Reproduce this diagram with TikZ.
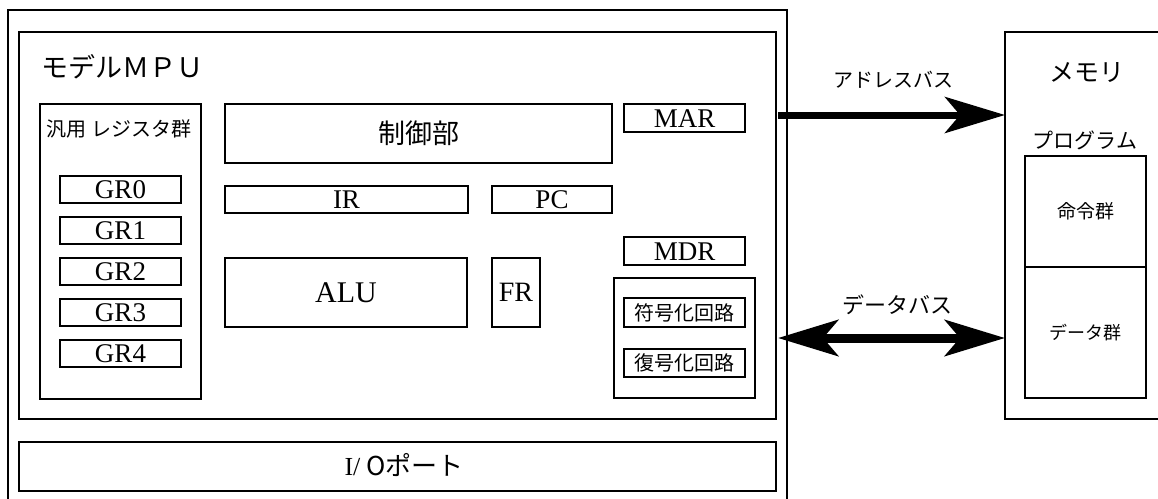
\documentclass[tikz,border=0pt]{standalone}
\usepackage{fontspec}
\setmainfont{Liberation Serif}
\newfontfamily\jp{Noto Sans CJK JP}
\usetikzlibrary{arrows.meta,calc}
\tikzset{
  bx/.style={draw, line width=1.8pt, inner sep=0pt, outer sep=0pt, anchor=north west, align=center},
  reg/.style={bx, minimum width=121pt, minimum height=27pt, font=\fontsize{27}{27}\selectfont, text height=18pt, text depth=-5pt},
  jtxt/.style={font=\jp\fontsize{#1}{#1}\selectfont, inner sep=0pt},
  bus/.style={line width=#1, -{Stealth[length=60pt,width=36pt,inset=15pt]}},
  dbus/.style={line width=#1, {Stealth[length=60pt,width=36pt,inset=15pt]}-{Stealth[length=60pt,width=36pt,inset=15pt]}}
}
\begin{document}
\begin{tikzpicture}[x=1pt,y=-1pt]
\useasboundingbox (0,0) rectangle (1158,498);
\clip (0,0) rectangle (1158,498);
% outer frames
\node[bx, minimum width=779pt, minimum height=520pt] (outer) at (8,10) {};
\node[bx, minimum width=757pt, minimum height=387pt] (mpu) at (19,32) {};
\node[jtxt=27, anchor=west] (title) at (41,67) {モデルＭＰＵ};
\node[bx, minimum width=757pt, minimum height=49pt] (io) at (19,442) {};
\node[jtxt=26] (iolabel) at (404,465) {{\rmfamily I/} Oポート};
% general registers
\node[bx, minimum width=161pt, minimum height=295pt] (gpr) at (40,104) {};
\node[jtxt=20] (gprlabel) at (119,129) {汎用 レジスタ群};
\node[reg] (gr0) at (60,176) {GR0};
\node[reg] (gr1) at (60,217) {GR1};
\node[reg] (gr2) at (60,258) {GR2};
\node[reg] (gr3) at (60,299) {GR3};
\node[reg] (gr4) at (60,340) {GR4};
% control etc
\node[bx, minimum width=387pt, minimum height=59pt, font=\jp\fontsize{27}{27}\selectfont] (ctrl) at (225,104) {制御部};
\node[reg, minimum width=243pt] (ir) at (225,186) {IR};
\node[reg, minimum width=120pt] (pc) at (492,186) {PC};
\node[bx, minimum width=242pt, minimum height=69pt, font=\fontsize{30}{30}\selectfont] (alu) at (225,258) {ALU};
\node[bx, minimum width=48pt, minimum height=69pt, font=\fontsize{28}{28}\selectfont] (fr) at (492,258) {FR};
\node[reg, minimum height=28pt] (mar) at (624,104) {MAR};
\node[reg, minimum height=28pt] (mdr) at (624,237) {MDR};
\node[bx, minimum width=141pt, minimum height=120pt] (codec) at (614,278) {};
\node[bx, minimum width=121pt, minimum height=29pt, font=\jp\fontsize{20}{20}\selectfont] (enc) at (624,298) {符号化回路};
\node[bx, minimum width=121pt, minimum height=28pt, font=\jp\fontsize{20}{20}\selectfont] (dec) at (624,349) {復号化回路};
% memory
\node[bx, minimum width=170pt, minimum height=387pt] (mem) at (1005,32) {};
\node[jtxt=25] (memlabel) at (1087,73) {メモリ};
\node[jtxt=21] (proglabel) at (1085,140) {プログラム};
\node[bx, minimum width=121pt, minimum height=111pt, font=\jp\fontsize{19}{19}\selectfont] (inst) at (1025,156) {命令群};
\node[bx, minimum width=121pt, minimum height=131pt, font=\jp\fontsize{18}{18}\selectfont] (data) at (1025,267) {データ群};
% buses
\coordinate (a1) at (778,115);
\coordinate (d1) at (778,338);
\draw[bus=7pt] (a1) -- (mem.west |- a1);
\draw[dbus=9pt] (d1) -- (mem.west |- d1);
\node[jtxt=20] (abus) at (893,80) {アドレスバス};
\node[jtxt=22] (dbuslabel) at (897,305) {データバス};
\end{tikzpicture}
\end{document}
